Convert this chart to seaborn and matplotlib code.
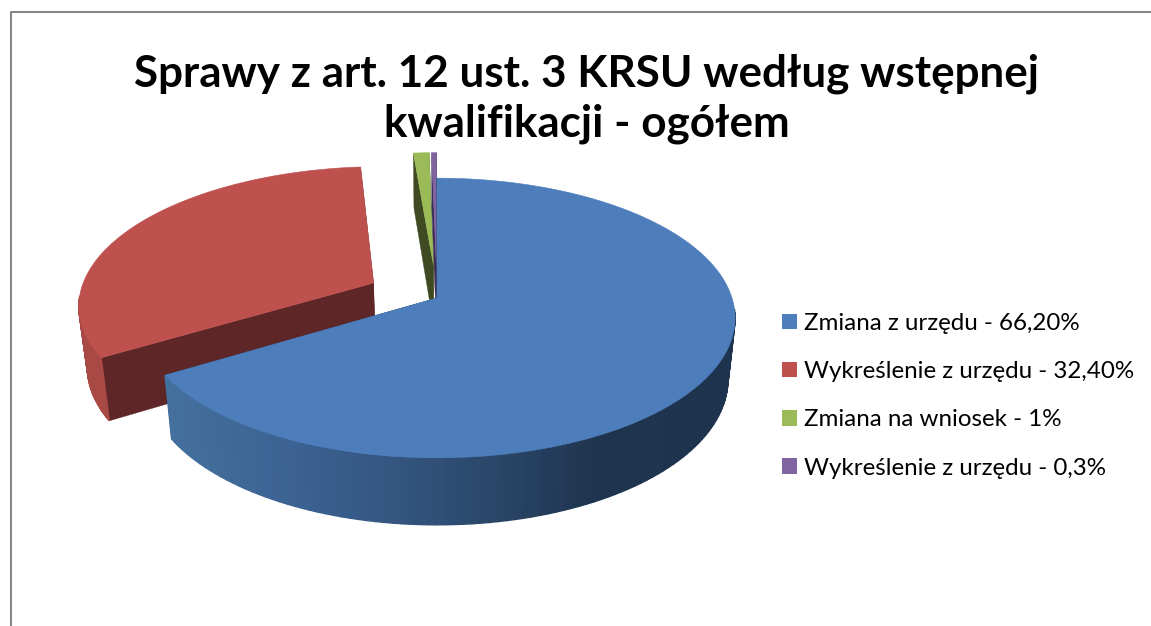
import numpy as np
import seaborn as sns
import matplotlib.pyplot as plt
from matplotlib.patches import Patch, Polygon

# dane z wykresu
labels = ['Zmiana z urzędu - 66,20%', 'Wykreślenie z urzędu - 32,40%',
          'Zmiana na wniosek - 1%', 'Wykreślenie z urzędu - 0,3%']
values = [66.2, 32.4, 1.0, 0.3]
explode = [0, 0.245, 0.25, 0.25]
title = 'Sprawy z art. 12 ust. 3 KRSU według wstępnej\nkwalifikacji - ogółem'

colors = sns.color_palette(['#4D7EBB', '#BE504D', '#9BBB59', '#8064A2'])
face_colors = ['#1E334E', '#5E2626', '#3F4A22', '#3A2C55']
rim_colors = [None, '#A84946', '#7F9A48', '#6A5388']
blue_side = sns.blend_palette(['#44709E', '#3A6090', '#2E4D73', '#1F354F', '#1E334E'], as_cmap=True)

sns.set_theme(style='white')
plt.rcParams['font.family'] = ['Lato', 'DejaVu Sans']

fig, ax = plt.subplots(figsize=(11.51, 6.26), dpi=100)
fig.subplots_adjust(0, 0, 1, 1)

wedges, _ = ax.pie(values, explode=explode, startangle=90, counterclock=False, colors=colors)
ax.set_aspect('auto')
ax.set_xlim(0, 1151)
ax.set_ylim(626, 0)
ax.axis('off')


# perspektywa: kolo jednostkowe -> piksele
def top(u, v):
    s = 1 + v / 7
    return 437 + 295 * u / s, 298 - 137 * v / s


def bottom(u, v):
    x, y = top(u, v)
    return 437 + 0.976 * (x - 437), y + 55 + (y - 153) * 12 / 305


def quad(p0, p1, color, lw=1.0):
    # pas miedzy gora a dolem placka
    xy = [top(*p0), top(*p1), bottom(*p1), bottom(*p0)]
    ax.add_patch(Polygon(xy, closed=True, fc=color, ec=color, lw=lw))


# od najdalszych do najblizszych: niebieski na koncu
for i in [1, 2, 3, 0]:
    w = wedges[i]
    cx, cy = w.center
    t = np.radians(np.linspace(w.theta1, w.theta2, 160))
    rim = [(cx + np.cos(a), cy + np.sin(a)) for a in t]

    quad((cx, cy), rim[0], face_colors[i], lw=0.3)
    quad((cx, cy), rim[-1], face_colors[i], lw=0.3)

    # widoczna jest tylko przednia czesc obrzeza
    for k in range(len(t) - 1):
        if np.sin(t[k]) > -0.1:
            continue
        if i == 0:
            xm = top(*rim[k])[0]
            quad(rim[k], rim[k + 1], blue_side(np.clip((xm - 165) / 570, 0, 1)))
        else:
            quad(rim[k], rim[k + 1], rim_colors[i])

    xy = [top(cx, cy)] + [top(*p) for p in rim]
    ax.add_patch(Polygon(xy, closed=True, fc=colors[i], ec=colors[i], lw=0.4))
    w.remove()

# ramka wykresu
ax.plot([11, 11, 1151], [626, 12, 12], color='#868686', lw=1.5, clip_on=False)

ax.text(587, 137, title, ha='center', va='baseline', fontsize=31.7, fontweight='bold',
        color='black', linespacing=1.3)

handles = [Patch(fc=c, ec='none') for c in colors]
ax.legend(handles, labels, loc='upper left', bbox_to_anchor=(767 / 1151, 1 - 298 / 626),
          frameon=False, fontsize=17.4, handlelength=0.62, handleheight=0.62,
          handletextpad=0.3, labelspacing=1.125, borderpad=0.62, borderaxespad=0,
          labelcolor='black')

plt.savefig('out.png', dpi=100)
